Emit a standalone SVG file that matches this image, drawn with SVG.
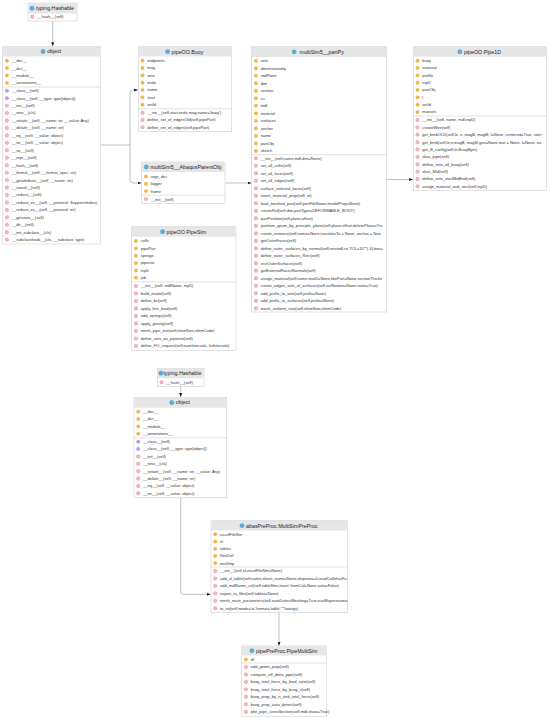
<svg xmlns="http://www.w3.org/2000/svg" xmlns:xlink="http://www.w3.org/1999/xlink" width="550" height="717" viewBox="0 0 550 717">
<style>
.box{fill:#fff;stroke:#cfcfcf;stroke-width:0.6}
.hdr{fill:#e6e6e6}
.ht{font-family:"Liberation Sans",Arial,sans-serif;font-size:5.3px;fill:#222;text-anchor:middle}
.rt{font-family:"Liberation Sans",Arial,sans-serif;font-size:4px;fill:#333}
.sep{stroke:#cfcfcf;stroke-width:0.6}
.edge{fill:none;stroke:#999;stroke-width:0.6}
.arr{marker-end:url(#ah)}
</style>
<defs>
<marker id="ah" markerWidth="4" markerHeight="3" refX="4" refY="1.5" orient="auto" markerUnits="userSpaceOnUse"><path d="M0,0 L4,1.5 L0,3 z" fill="#222"/></marker>
<circle id="ic" r="2.2" fill="#5aaee0" stroke="#3b8ec4" stroke-width="0.3"/>
<circle id="if" r="1.7" fill="#f4b942" stroke="#dc9d1e" stroke-width="0.3"/>
<circle id="im" r="1.7" fill="#f2bcc8" stroke="#d96a85" stroke-width="0.4"/>
<circle id="ip" r="1.7" fill="#b3a4ec" stroke="#7d69cf" stroke-width="0.3"/>
<clipPath id="cpPart"><rect x="251.7" y="46.7" width="135" height="265.3"/></clipPath>
<clipPath id="cpPipe"><rect x="413.3" y="46.7" width="133.4" height="143.8"/></clipPath>
<clipPath id="cpPre"><rect x="211" y="520.7" width="136.7" height="92"/></clipPath>
</defs>

<g id="connectors">
<path class="edge arr" d="M52.7,21 V46.3"/>
<path class="edge" d="M100.7,145 H130"/>
<path class="edge arr" d="M130,145 V93 Q130,90 133,90 H138.1"/>
<path class="edge arr" d="M130,145 V180 Q130,183 133,183 H141.5"/>
<path class="edge arr" d="M225,183 H251.5"/>
<path class="edge arr" d="M386.7,179.5 H413.1"/>
<path class="edge arr" d="M180.7,386.3 V397.1"/>
<path class="edge arr" d="M180.7,497.8 V591.3 Q180.7,594.3 183.7,594.3 H210.8"/>
<path class="edge arr" d="M279,612.7 V645.8"/>
</g>

<g id="hashable1">
<rect class="box" x="28" y="3" width="49" height="18"/>
<rect class="hdr" x="28.3" y="3.3" width="48.4" height="10.2"/>
<use href="#ic" x="32" y="8.25"/>
<text class="ht" x="55" y="10.2">typing.Hashable</text>
<use href="#im" x="32.2" y="16.8"/><text class="rt" x="37" y="18.2">__hash__(self)</text>
</g>

<g id="object1">
<rect class="box" x="2.7" y="46.5" width="98" height="197.5"/>
<rect class="hdr" x="3" y="46.8" width="97.4" height="9.7"/>
<use href="#ic" x="43.1" y="51.5"/>
<text class="ht" x="54.2" y="53.4">object</text>
<use href="#if" x="6.9" y="60.7"/><text class="rt" x="11.7" y="62.1">__doc__</text>
<use href="#if" x="6.9" y="68.1"/><text class="rt" x="11.7" y="69.5">__dict__</text>
<use href="#if" x="6.9" y="75.5"/><text class="rt" x="11.7" y="76.9">__module__</text>
<use href="#if" x="6.9" y="82.9"/><text class="rt" x="11.7" y="84.3">__annotations__</text>
<line class="sep" x1="2.7" y1="87" x2="100.7" y2="87"/>
<use href="#ip" x="6.9" y="90.7"/><text class="rt" x="11.7" y="92.1">__class__(self)</text>
<use href="#ip" x="6.9" y="98.15"/><text class="rt" x="11.7" y="99.55">__class__(self, __type: type[object])</text>
<use href="#im" x="6.9" y="105.6"/><text class="rt" x="11.7" y="107">__init__(self)</text>
<use href="#im" x="6.9" y="113.05"/><text class="rt" x="11.7" y="114.45">__new__(cls)</text>
<use href="#im" x="6.9" y="120.5"/><text class="rt" x="11.7" y="121.9">__setattr__(self, __name: str, __value: Any)</text>
<use href="#im" x="6.9" y="127.95"/><text class="rt" x="11.7" y="129.35">__delattr__(self, __name: str)</text>
<use href="#im" x="6.9" y="135.4"/><text class="rt" x="11.7" y="136.8">__eq__(self, __value: object)</text>
<use href="#im" x="6.9" y="142.85"/><text class="rt" x="11.7" y="144.25">__ne__(self, __value: object)</text>
<use href="#im" x="6.9" y="150.3"/><text class="rt" x="11.7" y="151.7">__str__(self)</text>
<use href="#im" x="6.9" y="157.75"/><text class="rt" x="11.7" y="159.15">__repr__(self)</text>
<use href="#im" x="6.9" y="165.2"/><text class="rt" x="11.7" y="166.6">__hash__(self)</text>
<use href="#im" x="6.9" y="172.65"/><text class="rt" x="11.7" y="174.05">__format__(self, __format_spec: str)</text>
<use href="#im" x="6.9" y="180.1"/><text class="rt" x="11.7" y="181.5">__getattribute__(self, __name: str)</text>
<use href="#im" x="6.9" y="187.55"/><text class="rt" x="11.7" y="188.95">__sizeof__(self)</text>
<use href="#im" x="6.9" y="195"/><text class="rt" x="11.7" y="196.4">__reduce__(self)</text>
<use href="#im" x="6.9" y="202.45"/><text class="rt" x="11.7" y="203.85">__reduce_ex__(self, __protocol: SupportsIndex)</text>
<use href="#im" x="6.9" y="209.9"/><text class="rt" x="11.7" y="211.3">__reduce_ex__(self, __protocol: int)</text>
<use href="#im" x="6.9" y="217.35"/><text class="rt" x="11.7" y="218.75">__getstate__(self)</text>
<use href="#im" x="6.9" y="224.8"/><text class="rt" x="11.7" y="226.2">__dir__(self)</text>
<use href="#im" x="6.9" y="232.25"/><text class="rt" x="11.7" y="233.65">__init_subclass__(cls)</text>
<use href="#im" x="6.9" y="239.7"/><text class="rt" x="11.7" y="241.1">__subclasshook__(cls, __subclass: type)</text>
</g>

<g id="buoy">
<rect class="box" x="138.3" y="46.5" width="93.4" height="85"/>
<rect class="hdr" x="138.6" y="46.8" width="92.8" height="9.7"/>
<use href="#ic" x="167.6" y="51.6"/>
<text class="ht" x="187.5" y="53.5">pipeOO.Buoy</text>
<use href="#if" x="142.5" y="60.7"/><text class="rt" x="147.3" y="62.1">midpoints</text>
<use href="#if" x="142.5" y="68.03"/><text class="rt" x="147.3" y="69.43">mag</text>
<use href="#if" x="142.5" y="75.36"/><text class="rt" x="147.3" y="76.76">sets</text>
<use href="#if" x="142.5" y="82.69"/><text class="rt" x="147.3" y="84.09">ends</text>
<use href="#if" x="142.5" y="90.02"/><text class="rt" x="147.3" y="91.42">name</text>
<use href="#if" x="142.5" y="97.35"/><text class="rt" x="147.3" y="98.75">start</text>
<use href="#if" x="142.5" y="104.68"/><text class="rt" x="147.3" y="106.08">setId</text>
<line class="sep" x1="138.3" y1="108.8" x2="231.7" y2="108.8"/>
<use href="#im" x="142.5" y="112.7"/><text class="rt" x="147.3" y="114.1">__init__(self,start,ends,mag,name='buoy')</text>
<use href="#im" x="142.5" y="120"/><text class="rt" x="147.3" y="121.4">define_set_of_edgesOld(self,pipePart)</text>
<use href="#im" x="142.5" y="127.3"/><text class="rt" x="147.3" y="128.7">define_set_of_edges(self,pipePart)</text>
</g>

<g id="abaqusParentObj">
<rect class="box" x="141.7" y="162" width="83.3" height="41.3"/>
<rect class="hdr" x="142" y="162.3" width="82.7" height="9.7"/>
<use href="#ic" x="146.3" y="167"/>
<text class="ht" x="185.85" y="168.9">multiSim5__AbaqusParentObj</text>
<use href="#if" x="145.9" y="176.5"/><text class="rt" x="150.7" y="177.9">argv_dict</text>
<use href="#if" x="145.9" y="183.8"/><text class="rt" x="150.7" y="185.2">logger</text>
<use href="#if" x="145.9" y="191.1"/><text class="rt" x="150.7" y="192.5">frame</text>
<line class="sep" x1="141.7" y1="195.2" x2="225" y2="195.2"/>
<use href="#im" x="145.9" y="199.1"/><text class="rt" x="150.7" y="200.5">__init__(self)</text>
</g>

<g id="pipeSim">
<rect class="box" x="131.7" y="226.7" width="104.3" height="123.6"/>
<rect class="hdr" x="132" y="227" width="103.7" height="9.7"/>
<use href="#ic" x="162.6" y="231.7"/>
<text class="ht" x="186.35" y="233.6">pipeOO.PipeSim</text>
<use href="#if" x="135.9" y="241"/><text class="rt" x="140.7" y="242.4">cells</text>
<use href="#if" x="135.9" y="248.36"/><text class="rt" x="140.7" y="249.76">pipePart</text>
<use href="#if" x="135.9" y="255.72"/><text class="rt" x="140.7" y="257.12">springs</text>
<use href="#if" x="135.9" y="263.08"/><text class="rt" x="140.7" y="264.48">pipeinst</text>
<use href="#if" x="135.9" y="270.44"/><text class="rt" x="140.7" y="271.84">inpD</text>
<use href="#if" x="135.9" y="277.8"/><text class="rt" x="140.7" y="279.2">job</text>
<line class="sep" x1="131.7" y1="282" x2="236" y2="282"/>
<use href="#im" x="135.9" y="286"/><text class="rt" x="140.7" y="287.4">__init__(self, mdlName, inpD)</text>
<use href="#im" x="135.9" y="293.5"/><text class="rt" x="140.7" y="294.9">build_model(self)</text>
<use href="#im" x="135.9" y="301"/><text class="rt" x="140.7" y="302.4">define_bc(self)</text>
<use href="#im" x="135.9" y="308.5"/><text class="rt" x="140.7" y="309.9">apply_line_load(self)</text>
<use href="#im" x="135.9" y="316"/><text class="rt" x="140.7" y="317.4">add_springs(self)</text>
<use href="#im" x="135.9" y="323.5"/><text class="rt" x="140.7" y="324.9">apply_gravity(self)</text>
<use href="#im" x="135.9" y="331"/><text class="rt" x="140.7" y="332.4">mesh_pipe_inst(self,elemSize,elemCode)</text>
<use href="#im" x="135.9" y="338.5"/><text class="rt" x="140.7" y="339.9">define_sets_on_pipeinst(self)</text>
<use href="#im" x="135.9" y="346"/><text class="rt" x="140.7" y="347.4">define_FO_request(self,numIntervals, hsIntervals)</text>
</g>

<g id="partPy">
<rect class="box" x="251.7" y="46.7" width="135" height="265.3"/>
<rect class="hdr" x="252" y="47" width="134.4" height="10"/>
<use href="#ic" x="294.1" y="51.85"/>
<text class="ht" x="321.7" y="53.75">multiSim5__partPy</text>
<g clip-path="url(#cpPart)">
<use href="#if" x="255.9" y="60.7"/><text class="rt" x="260.7" y="62.1">sets</text>
<use href="#if" x="255.9" y="68.22"/><text class="rt" x="260.7" y="69.62">dimensionality</text>
<use href="#if" x="255.9" y="75.74"/><text class="rt" x="260.7" y="77.14">mdlPoint</text>
<use href="#if" x="255.9" y="83.26"/><text class="rt" x="260.7" y="84.66">dim</text>
<use href="#if" x="255.9" y="90.78"/><text class="rt" x="260.7" y="92.18">section</text>
<use href="#if" x="255.9" y="98.3"/><text class="rt" x="260.7" y="99.7">cs</text>
<use href="#if" x="255.9" y="105.82"/><text class="rt" x="260.7" y="107.22">mdl</text>
<use href="#if" x="255.9" y="113.34"/><text class="rt" x="260.7" y="114.74">material</text>
<use href="#if" x="255.9" y="120.86"/><text class="rt" x="260.7" y="122.26">surfaces</text>
<use href="#if" x="255.9" y="128.38"/><text class="rt" x="260.7" y="129.78">anchor</text>
<use href="#if" x="255.9" y="135.9"/><text class="rt" x="260.7" y="137.3">name</text>
<use href="#if" x="255.9" y="143.42"/><text class="rt" x="260.7" y="144.82">partObj</text>
<use href="#if" x="255.9" y="150.94"/><text class="rt" x="260.7" y="152.34">sketch</text>
<line class="sep" x1="251.7" y1="154.7" x2="386.7" y2="154.7"/>
<use href="#im" x="255.9" y="158.3"/><text class="rt" x="260.7" y="159.7">__init__(self,name,mdl,dim=None)</text>
<use href="#im" x="255.9" y="165.8"/><text class="rt" x="260.7" y="167.2">set_all_cells(self)</text>
<use href="#im" x="255.9" y="173.3"/><text class="rt" x="260.7" y="174.7">set_all_faces(self)</text>
<use href="#im" x="255.9" y="180.8"/><text class="rt" x="260.7" y="182.2">set_all_edges(self)</text>
<use href="#im" x="255.9" y="188.3"/><text class="rt" x="260.7" y="189.7">surface_external_faces(self)</text>
<use href="#im" x="255.9" y="195.8"/><text class="rt" x="260.7" y="197.2">insert_material_prop(self, m)</text>
<use href="#im" x="255.9" y="203.3"/><text class="rt" x="260.7" y="204.7">load_meshed_part(self,partFileName,modelProp=None)</text>
<use href="#im" x="255.9" y="210.8"/><text class="rt" x="260.7" y="212.2">createRef(self,dim,partType=DEFORMABLE_BODY)</text>
<use href="#im" x="255.9" y="218.3"/><text class="rt" x="260.7" y="219.7">partPartition(self,plane,offset)</text>
<use href="#im" x="255.9" y="225.8"/><text class="rt" x="260.7" y="227.2">partition_geom_by_principle_plane(self,plane,offset,deletePlane=Tru</text>
<use href="#im" x="255.9" y="233.3"/><text class="rt" x="260.7" y="234.7">create_instance(self,name=None,translateTo = None, anchor = Non</text>
<use href="#im" x="255.9" y="240.8"/><text class="rt" x="260.7" y="242.2">getOuterFaces(self)</text>
<use href="#im" x="255.9" y="248.3"/><text class="rt" x="260.7" y="249.7">define_outer_surfaces_by_normal(self,nestedList,TOL=10**(-4),box=</text>
<use href="#im" x="255.9" y="255.8"/><text class="rt" x="260.7" y="257.2">define_outer_surfaces_Rect(self)</text>
<use href="#im" x="255.9" y="263.3"/><text class="rt" x="260.7" y="264.7">rectOuterSurfaces(self)</text>
<use href="#im" x="255.9" y="270.8"/><text class="rt" x="260.7" y="272.2">getExternalFacesNormals(self)</text>
<use href="#im" x="255.9" y="278.3"/><text class="rt" x="260.7" y="279.7">assign_material(self,name,matD=None,likePart=None,sectionThickn</text>
<use href="#im" x="255.9" y="285.8"/><text class="rt" x="260.7" y="287.2">create_edges_sets_of_surfaces(self,surNames=None,store=True)</text>
<use href="#im" x="255.9" y="293.3"/><text class="rt" x="260.7" y="294.7">add_prefix_to_sets(self,prefix=None)</text>
<use href="#im" x="255.9" y="300.8"/><text class="rt" x="260.7" y="302.2">add_prefix_to_surfaces(self,prefix=None)</text>
<use href="#im" x="255.9" y="308.3"/><text class="rt" x="260.7" y="309.7">mesh_uniform_size(self,elemSize,elemCode)</text>
</g>
</g>

<g id="pipe1D">
<rect class="box" x="413.3" y="46.7" width="133.4" height="143.8"/>
<rect class="hdr" x="413.6" y="47" width="132.8" height="9.7"/>
<use href="#ic" x="459.9" y="51.7"/>
<text class="ht" x="482.5" y="53.6">pipeOO.Pipe1D</text>
<g clip-path="url(#cpPipe)">
<use href="#if" x="417.5" y="60.7"/><text class="rt" x="422.3" y="62.1">buoy</text>
<use href="#if" x="417.5" y="68.03"/><text class="rt" x="422.3" y="69.43">material</text>
<use href="#if" x="417.5" y="75.36"/><text class="rt" x="422.3" y="76.76">profile</text>
<use href="#if" x="417.5" y="82.69"/><text class="rt" x="422.3" y="84.09">inpD</text>
<use href="#if" x="417.5" y="90.02"/><text class="rt" x="422.3" y="91.42">partObj</text>
<use href="#if" x="417.5" y="97.35"/><text class="rt" x="422.3" y="98.75">l</text>
<use href="#if" x="417.5" y="104.68"/><text class="rt" x="422.3" y="106.08">setId</text>
<use href="#if" x="417.5" y="112.01"/><text class="rt" x="422.3" y="113.41">masses</text>
<line class="sep" x1="413.3" y1="116" x2="546.7" y2="116"/>
<use href="#im" x="417.5" y="120"/><text class="rt" x="422.3" y="121.4">__init__(self, name, mdl,inpD)</text>
<use href="#im" x="417.5" y="127.37"/><text class="rt" x="422.3" y="128.77">createWire(self)</text>
<use href="#im" x="417.5" y="134.74"/><text class="rt" x="422.3" y="136.14">get_bmbOLD(self,le, n, magB, magM, l=None, centered=True, start</text>
<use href="#im" x="417.5" y="142.11"/><text class="rt" x="422.3" y="143.51">get_bmb(self,le,n,magB, magM,geo=None,mat = None, l=None, no</text>
<use href="#im" x="417.5" y="149.48"/><text class="rt" x="422.3" y="150.88">get_B_config(self,le,BuoyBym)</text>
<use href="#im" x="417.5" y="156.85"/><text class="rt" x="422.3" y="158.25">slice_pipe(self)</text>
<use href="#im" x="417.5" y="164.22"/><text class="rt" x="422.3" y="165.62">define_sets_all_buoy(self)</text>
<use href="#im" x="417.5" y="171.59"/><text class="rt" x="422.3" y="172.99">slice_Mid(self)</text>
<use href="#im" x="417.5" y="178.96"/><text class="rt" x="422.3" y="180.36">define_sets_startMidEnd(self)</text>
<use href="#im" x="417.5" y="186.33"/><text class="rt" x="422.3" y="187.73">assign_material_and_sect(self,inpD)</text>
</g>
</g>

<g id="hashable2">
<rect class="box" x="157.3" y="368.3" width="46.7" height="18"/>
<rect class="hdr" x="157.6" y="368.6" width="46.1" height="9.7"/>
<use href="#ic" x="160.9" y="373.15"/>
<text class="ht" x="182.4" y="375.05">typing.Hashable</text>
<use href="#im" x="161.5" y="382.2"/><text class="rt" x="166.3" y="383.6">__hash__(self)</text>
</g>

<g id="object2">
<rect class="box" x="134" y="397.3" width="92.7" height="100.5"/>
<rect class="hdr" x="134.3" y="397.6" width="92.1" height="10.1"/>
<use href="#ic" x="171.8" y="402.5"/>
<text class="ht" x="182.85" y="404.4">object</text>
<use href="#if" x="138.2" y="411.7"/><text class="rt" x="143" y="413.1">__doc__</text>
<use href="#if" x="138.2" y="419.03"/><text class="rt" x="143" y="420.43">__dict__</text>
<use href="#if" x="138.2" y="426.36"/><text class="rt" x="143" y="427.76">__module__</text>
<use href="#if" x="138.2" y="433.69"/><text class="rt" x="143" y="435.09">__annotations__</text>
<line class="sep" x1="134" y1="437.8" x2="226.7" y2="437.8"/>
<use href="#ip" x="138.2" y="441.7"/><text class="rt" x="143" y="443.1">__class__(self)</text>
<use href="#ip" x="138.2" y="449.07"/><text class="rt" x="143" y="450.47">__class__(self, __type: type[object])</text>
<use href="#im" x="138.2" y="456.44"/><text class="rt" x="143" y="457.84">__init__(self)</text>
<use href="#im" x="138.2" y="463.81"/><text class="rt" x="143" y="465.21">__new__(cls)</text>
<use href="#im" x="138.2" y="471.18"/><text class="rt" x="143" y="472.58">__setattr__(self, __name: str, __value: Any)</text>
<use href="#im" x="138.2" y="478.55"/><text class="rt" x="143" y="479.95">__delattr__(self, __name: str)</text>
<use href="#im" x="138.2" y="485.92"/><text class="rt" x="143" y="487.32">__eq__(self, __value: object)</text>
<use href="#im" x="138.2" y="493.29"/><text class="rt" x="143" y="494.69">__ne__(self, __value: object)</text>
</g>

<g id="multiSimPreProc">
<rect class="box" x="211" y="520.7" width="136.7" height="92"/>
<rect class="hdr" x="211.3" y="521" width="136.1" height="9.5"/>
<use href="#ic" x="242" y="525.6"/>
<text class="ht" x="281.85" y="527.5">abasPreProc.MultiSimPreProc</text>
<g clip-path="url(#cpPre)">
<use href="#if" x="215.2" y="534.3"/><text class="rt" x="220" y="535.7">excelFileNm</text>
<use href="#if" x="215.2" y="541.5"/><text class="rt" x="220" y="542.9">nl</text>
<use href="#if" x="215.2" y="548.7"/><text class="rt" x="220" y="550.1">tables</text>
<use href="#if" x="215.2" y="555.9"/><text class="rt" x="220" y="557.3">filesDef</text>
<use href="#if" x="215.2" y="563.1"/><text class="rt" x="220" y="564.5">multImp</text>
<line class="sep" x1="211" y1="567" x2="347.7" y2="567"/>
<use href="#im" x="215.2" y="571"/><text class="rt" x="220" y="572.4">__init__(self,nl,excelFileNm=None)</text>
<use href="#im" x="215.2" y="578.46"/><text class="rt" x="220" y="579.86">add_xl_table(self,name,sheet_name=None,skiprows=0,readColInfo=Fa</text>
<use href="#im" x="215.2" y="585.92"/><text class="rt" x="220" y="587.32">add_mdlName_col(self,tableNm='main',fromCol=None,auto=False)</text>
<use href="#im" x="215.2" y="593.38"/><text class="rt" x="220" y="594.78">export_to_files(self,tables=None)</text>
<use href="#im" x="215.2" y="600.84"/><text class="rt" x="220" y="602.24">mesh_main_parameters(self,autoDetectMeshing=True,evalExpressions=</text>
<use href="#im" x="215.2" y="608.3"/><text class="rt" x="220" y="609.7">to_txt(self,mode='w',format='table',**kwargs)</text>
</g>
</g>

<g id="pipeMultiSim">
<rect class="box" x="241.7" y="646" width="85" height="70.5"/>
<rect class="hdr" x="242" y="646.3" width="84.4" height="9.2"/>
<use href="#ic" x="251.9" y="650.75"/>
<text class="ht" x="286.7" y="652.6">pipePreProc.PipeMultiSim</text>
<use href="#if" x="245.9" y="659.5"/><text class="rt" x="250.7" y="660.9">df</text>
<line class="sep" x1="241.7" y1="663" x2="326.7" y2="663"/>
<use href="#im" x="245.9" y="667"/><text class="rt" x="250.7" y="668.4">add_geom_prop(self)</text>
<use href="#im" x="245.9" y="674.45"/><text class="rt" x="250.7" y="675.85">compute_eff_dens_pipe(self)</text>
<use href="#im" x="245.9" y="681.9"/><text class="rt" x="250.7" y="683.3">buoy_total_force_by_load_ratio(self)</text>
<use href="#im" x="245.9" y="689.35"/><text class="rt" x="250.7" y="690.75">buoy_total_force_by_buoy_r(self)</text>
<use href="#im" x="245.9" y="696.8"/><text class="rt" x="250.7" y="698.2">buoy_prop_by_n_and_total_force(self)</text>
<use href="#im" x="245.9" y="704.25"/><text class="rt" x="250.7" y="705.65">buoy_prop_auto_detect(self)</text>
<use href="#im" x="245.9" y="711.7"/><text class="rt" x="250.7" y="713.1">plot_pipe_crossSection(self,mdl,show=True)</text>
</g>
</svg>
